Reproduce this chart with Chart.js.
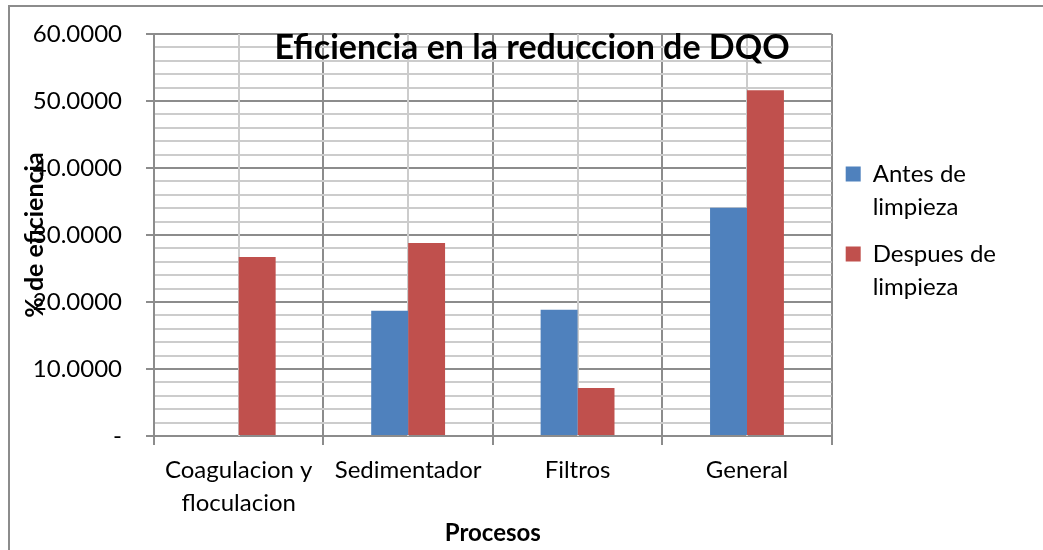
<!DOCTYPE html>
<html>
<head>
<meta charset="utf-8">
<script src="https://cdn.jsdelivr.net/npm/chart.js@4/dist/chart.umd.min.js"></script>
<style>
  body { margin: 0; background: #fff; }
</style>
</head>
<body>
<canvas id="dqo_chart" width="1043" height="550"></canvas>
<script>
// chart values
const categories = [["Coagulacion y", "floculacion"], "Sedimentador", "Filtros", "General"];
const antes_values = [0, 18.7, 18.85, 34.05];
const despues_values = [26.7, 28.8, 7.15, 51.6];
const y_tick_labels = ["-", "10.0000", "20.0000", "30.0000", "40.0000", "50.0000", "60.0000"];

const major_color = "#8c8c8c";
const minor_color = "#cccccc";
const font_family = "Lato";

// outer frame of the chart
const framePlugin = {
    id: "frame",
    beforeDraw(chart) {
        const ctx = chart.ctx;
        ctx.save();
        ctx.strokeStyle = major_color;
        ctx.lineWidth = 2;
        ctx.strokeRect(9, 6, 1200, 700);
        ctx.restore();
    }
};

// light vertical lines through the category centres
const centerLinesPlugin = {
    id: "centerLines",
    beforeDatasetsDraw(chart) {
        const ctx = chart.ctx;
        const area = chart.chartArea;
        const x = chart.scales.x;
        ctx.save();
        ctx.strokeStyle = minor_color;
        ctx.lineWidth = 2;
        for (let i = 0; i < categories.length; i++) {
            const px = Math.round(x.getPixelForValue(i));
            ctx.beginPath();
            ctx.moveTo(px, area.top);
            ctx.lineTo(px, area.bottom);
            ctx.stroke();
        }
        ctx.restore();
    }
};

// title drawn over the plot, like the spreadsheet does
const overlayTitlePlugin = {
    id: "overlayTitle",
    afterDraw(chart) {
        const ctx = chart.ctx;
        ctx.save();
        ctx.font = "bold 34px " + font_family;
        ctx.fillStyle = "#000";
        ctx.textAlign = "center";
        ctx.textBaseline = "middle";
        ctx.fillText("Eficiencia en la reduccion de DQO", 532, 48);
        ctx.restore();
    }
};

const dqo_chart = new Chart("dqo_chart", {
    type: "bar",
    data: {
        labels: categories,
        datasets: [{
            label: ["Antes de", "limpieza"],
            backgroundColor: "#4f81bd",
            data: antes_values
        }, {
            label: ["Despues de", "limpieza"],
            backgroundColor: "#c0504d",
            data: despues_values
        }]
    },
    plugins: [framePlugin, centerLinesPlugin, overlayTitlePlugin],
    options: {
        animation: false,
        responsive: false,
        datasets: {
            bar: { barPercentage: 1, categoryPercentage: 0.436 }
        },
        layout: {
            padding: { top: 34, right: 37, bottom: 0, left: 0 }
        },
        plugins: {
            title: { display: false },
            tooltip: { enabled: false },
            legend: {
                display: true,
                position: "right",
                fullSize: false,
                labels: {
                    boxWidth: 15,
                    boxHeight: 15,
                    padding: 14,
                    color: "#000",
                    font: { family: font_family, size: 24, lineHeight: 1.375 }
                }
            }
        },
        scales: {
            x: {
                afterFit: (scale) => { scale.height = 114; },
                grid: {
                    color: major_color,
                    lineWidth: 2,
                    tickLength: 9,
                    offset: true
                },
                border: { color: major_color, width: 2 },
                ticks: {
                    color: "#000",
                    padding: 9,
                    font: { family: font_family, size: 24, lineHeight: 1.375 }
                },
                title: {
                    display: true,
                    text: "Procesos",
                    color: "#000",
                    padding: { top: 0, bottom: 2 },
                    font: { family: font_family, size: 24, weight: "bold" }
                }
            },
            y: {
                min: 0,
                max: 60,
                afterFit: (scale) => {
                    scale.width = 154;
                    scale.paddingTop = 0;
                    scale.paddingBottom = 0;
                },
                grid: {
                    color: (c) => (c.tick.value % 10 === 0 ? major_color : minor_color),
                    tickColor: (c) => (c.tick.value % 10 === 0 ? major_color : "rgba(0,0,0,0)"),
                    lineWidth: 2,
                    tickLength: 8
                },
                border: { color: major_color, width: 2 },
                ticks: {
                    stepSize: 2,
                    autoSkip: false,
                    color: "#000",
                    padding: 24,
                    font: { family: font_family, size: 24 },
                    callback: (value) => (value % 10 === 0 ? y_tick_labels[value / 10] : "")
                },
                title: {
                    display: true,
                    text: "% de eficiencia",
                    color: "#000",
                    padding: { top: 20, bottom: 0 },
                    font: { family: font_family, size: 25, weight: "bold" }
                }
            }
        }
    }
});
</script>
</body>
</html>
